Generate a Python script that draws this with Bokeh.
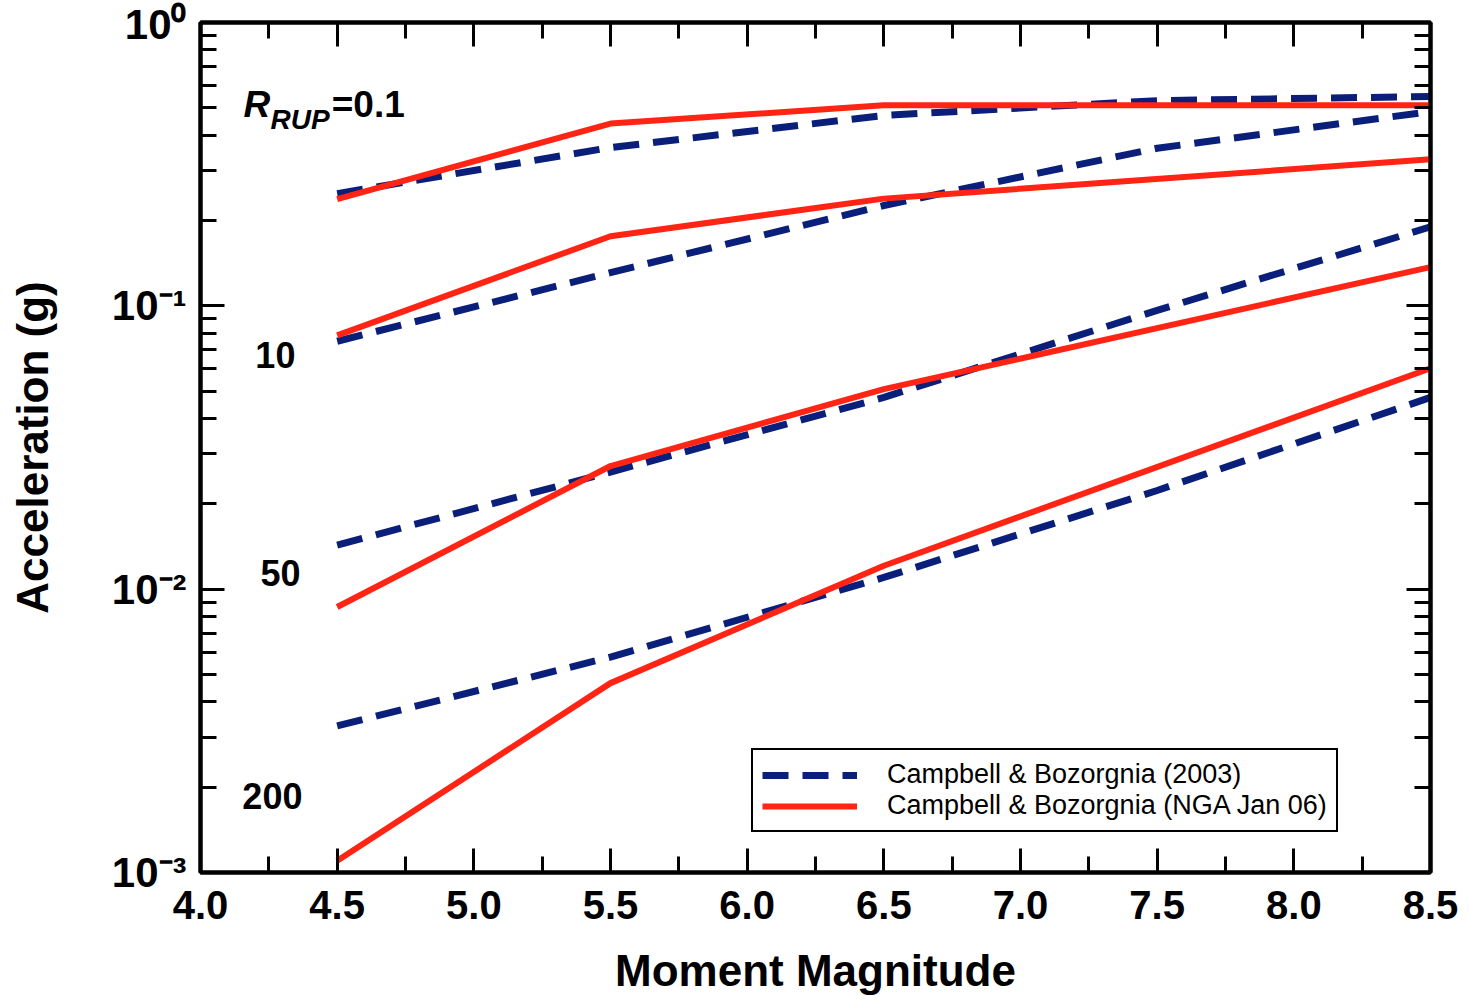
import numpy as np
from bokeh.plotting import figure
from bokeh.models import (FixedTicker, LinearAxis, LogAxis, CustomJSTickFormatter,
                          PrintfTickFormatter, Label, Legend, LegendItem)
from bokeh.embed import file_html
from bokeh.resources import INLINE

# ---------------- data ----------------
mag_2003 = [4.5, 5.5, 6.5, 7.5, 8.5]
mag_nga = [4.5, 5.5, 6.5, 8.5]

cb2003_r0_1 = [0.249, 0.362, 0.47, 0.53, 0.548]
cb2003_r10 = [0.075, 0.131, 0.226, 0.36, 0.485]
cb2003_r50 = [0.0143, 0.0259, 0.0475, 0.0964, 0.19]
cb2003_r200 = [0.00329, 0.00576, 0.011, 0.0223, 0.0475]

nga_r0_1 = [0.238, 0.44, 0.51, 0.51]
nga_r10 = [0.0787, 0.176, 0.239, 0.329]
nga_r50 = [0.00865, 0.0272, 0.0508, 0.137]
nga_r200 = [0.0011, 0.00466, 0.0121, 0.0602]

x_ticks = [4.0, 4.5, 5.0, 5.5, 6.0, 6.5, 7.0, 7.5, 8.0, 8.5]
x_minor = [4.25, 4.75, 5.25, 5.75, 6.25, 6.75, 7.25, 7.75, 8.25]
y_ticks = [0.001, 0.01, 0.1, 1.0]
y_tick_text = {"-3": "10\u207b\u00b3", "-2": "10\u207b\u00b2",
               "-1": "10\u207b\u00b9", "0": "10\u2070"}
y_minor = [m * d for d in [0.001, 0.01, 0.1] for m in range(2, 10)]

distance_labels = ["10", "50", "200"]
distance_label_x = [4.274, 4.293, 4.263]
distance_label_y = [0.0669, 0.01138, 0.00186]

legend_labels = ["Campbell & Bozorgnia (2003)", "Campbell & Bozorgnia (NGA Jan 06)"]

BLUE = "#0a1f7a"
RED = "#ff2414"
FONT = "Liberation Sans"

# ---------------- figure ----------------
p = figure(width=1469, height=1000, x_range=(4.0, 8.5), y_range=(1e-3, 1.0),
           y_axis_type="log", output_backend="svg", toolbar_location=None,
           min_border_left=200, min_border_right=39, min_border_top=22,
           min_border_bottom=128, x_axis_location=None, y_axis_location=None)
p.grid.visible = False
p.outline_line_color = "black"
p.outline_line_width = 4
p.outline_line_alpha = 1.0
p.background_fill_color = "white"
p.border_fill_color = "white"

empty = CustomJSTickFormatter(code="return ''")


def style_axis(ax, labels=True):
    ax.axis_line_width = 4
    ax.axis_line_color = "black"
    ax.major_tick_in = 24
    ax.major_tick_out = 0
    ax.minor_tick_in = 16
    ax.minor_tick_out = 0
    ax.major_tick_line_width = 3
    ax.minor_tick_line_width = 3
    ax.major_tick_line_color = "black"
    ax.minor_tick_line_color = "black"
    ax.major_label_text_color = "black"
    ax.axis_label_text_color = "black"
    if not labels:
        ax.formatter = empty
        ax.major_label_text_font_size = "0px"
        ax.major_label_standoff = 0


xt = FixedTicker(ticks=x_ticks, minor_ticks=x_minor)
yt = FixedTicker(ticks=y_ticks, minor_ticks=y_minor)

xb = LinearAxis(ticker=xt, axis_label="Moment Magnitude",
                formatter=PrintfTickFormatter(format="%.1f"))
style_axis(xb)
xb.major_label_text_font = FONT
xb.major_label_text_font_style = "bold"
xb.major_label_text_font_size = "40px"
xb.major_label_standoff = 18
xb.axis_label_text_font = FONT
xb.axis_label_text_font_style = "bold"
xb.axis_label_text_font_size = "44px"
xb.axis_label_standoff = 24
p.add_layout(xb, "below")

xtop = LinearAxis(ticker=xt)
style_axis(xtop, labels=False)
p.add_layout(xtop, "above")

yl = LogAxis(ticker=yt, axis_label="Acceleration (g)",
             formatter=CustomJSTickFormatter(
                 args=dict(m=y_tick_text),
                 code="const e = String(Math.round(Math.log10(tick))); return m[e];"))
style_axis(yl)
yl.major_label_text_font = FONT
yl.major_label_text_font_style = "bold"
yl.major_label_text_font_size = "42px"
yl.major_label_standoff = 14
yl.axis_label_text_font = FONT
yl.axis_label_text_font_style = "bold"
yl.axis_label_text_font_size = "44px"
yl.axis_label_standoff = 52
p.add_layout(yl, "left")

yr = LogAxis(ticker=yt)
style_axis(yr, labels=False)
p.add_layout(yr, "right")

# ---------------- lines ----------------
blue_sets = [cb2003_r0_1, cb2003_r10, cb2003_r50, cb2003_r200]
red_sets = [nga_r0_1, nga_r10, nga_r50, nga_r200]
blue_r = []
red_r = []
for ys in blue_sets:
    blue_r.append(p.line(mag_2003, ys, line_color=BLUE, line_width=7,
                         line_dash="26 14"))
for ys in red_sets:
    red_r.append(p.line(mag_nga, ys, line_color=RED, line_width=6))

# ---------------- annotations ----------------
for t, x, y in zip(distance_labels, distance_label_x, distance_label_y):
    p.add_layout(Label(x=x, y=y, text=t, text_align="center",
                       text_baseline="middle", text_font=FONT,
                       text_font_style="bold", text_font_size="36px",
                       text_color="black"))

p.add_layout(Label(x=4.157, y=0.513, text="R", text_align="left",
                   text_baseline="alphabetic", text_font=FONT,
                   text_font_style="bold italic", text_font_size="37px",
                   text_color="black"))
p.add_layout(Label(x=4.256, y=0.455, text="RUP", text_align="left",
                   text_baseline="alphabetic", text_font=FONT,
                   text_font_style="bold italic", text_font_size="28px",
                   text_color="black"))
p.add_layout(Label(x=4.480, y=0.513, text="=0.1", text_align="left",
                   text_baseline="alphabetic", text_font=FONT,
                   text_font_style="bold", text_font_size="37px",
                   text_color="black"))

# ---------------- legend ----------------
legend = Legend(items=[LegendItem(label=legend_labels[0], renderers=[blue_r[0]]),
                       LegendItem(label=legend_labels[1], renderers=[red_r[0]])],
                location=(551, 40))
legend.border_line_color = "black"
legend.border_line_width = 2
legend.border_line_alpha = 1.0
legend.background_fill_color = "white"
legend.background_fill_alpha = 1.0
legend.label_text_font = FONT
legend.label_text_font_size = "27px"
legend.label_text_color = "black"
legend.glyph_width = 95
legend.glyph_height = 24
legend.label_height = 24
legend.label_standoff = 30
legend.padding = 9
legend.spacing = 0
legend.margin = 0
p.add_layout(legend, "center")

open("out.html", "w").write(file_html(p, INLINE))
